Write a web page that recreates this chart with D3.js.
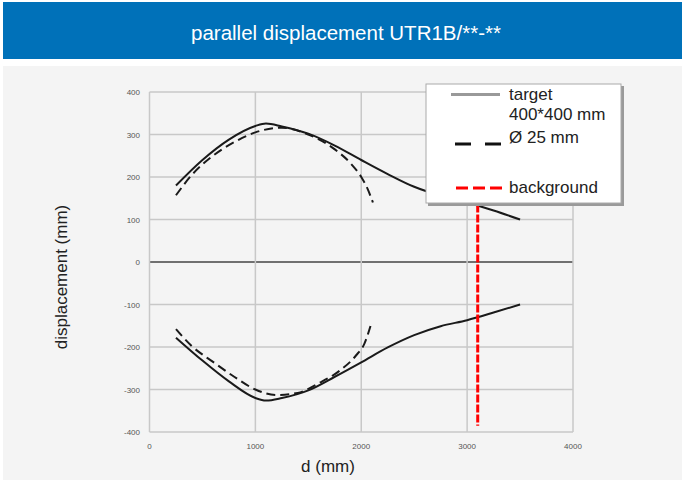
<!DOCTYPE html>
<html>
<head>
<meta charset="utf-8">
<script src="https://cdn.jsdelivr.net/npm/d3@7"></script>
<style>
  body { margin: 0; background: #fff; }
  svg { display: block; font-family: "Liberation Sans", Arial, sans-serif; }
</style>
</head>
<body>
<div id="chart"></div>
<script>
const W = 682, H = 481;

// data (d in mm, displacement in mm)
const targetUpper = [[250,180],[500,240],[750,288],[1000,320],[1100,326],[1250,319],[1500,302],[1750,274],[2000,240],[2250,207],[2500,177],[2750,156],[3000,140],[3250,121],[3500,100]];
const targetLower = [[250,-178],[500,-232],[750,-281],[1000,-320],[1100,-326],[1250,-320],[1500,-302],[1750,-270],[2000,-236],[2250,-201],[2500,-172],[2750,-151],[3000,-137],[3250,-119],[3500,-100]];
const rodUpper = [[250,157],[400,205],[600,250],[800,282],[1000,305],[1250,316],[1500,300],[1750,265],[1900,232],[2000,200],[2060,172],[2110,140]];
const rodLower = [[250,-158],[400,-198],[600,-235],[800,-270],[1000,-300],[1200,-313],[1400,-308],[1600,-285],[1800,-255],[1950,-220],[2030,-192],[2100,-140]];
const backgroundD = 3100;
const xTicks = [0, 1000, 2000, 3000, 4000];
const yTicks = [-400, -300, -200, -100, 0, 100, 200, 300, 400];
const legendItems = ["target", "400*400 mm", "Ø 25 mm", "background"];

const svg = d3.select("#chart").append("svg").attr("width", W).attr("height", H);

// header
svg.append("rect").attr("x", 3).attr("y", 2).attr("width", W - 3).attr("height", 57).attr("fill", "#0071b9");
svg.append("text").attr("x", 346).attr("y", 40).attr("text-anchor", "middle")
  .attr("fill", "#fff").attr("font-size", 20.5).text("parallel displacement UTR1B/**-**");

// panel
svg.append("rect").attr("x", 3).attr("y", 66).attr("width", W - 3).attr("height", 414).attr("fill", "#f4f4f4");

const x = d3.scaleLinear().domain([0, 4000]).range([149.5, 573]);
const y = d3.scaleLinear().domain([-400, 400]).range([432, 92]);

// grid
const grid = svg.append("g");
grid.selectAll(".h").data(yTicks).join("line")
  .attr("x1", x(0)).attr("x2", x(4000)).attr("y1", d => y(d)).attr("y2", d => y(d))
  .attr("stroke", d => d === 0 ? "#444" : "#c8c8c8").attr("stroke-width", 1.5);
grid.selectAll(".v").data(xTicks).join("line")
  .attr("y1", y(400)).attr("y2", y(-400)).attr("x1", d => x(d)).attr("x2", d => x(d))
  .attr("stroke", "#c8c8c8").attr("stroke-width", 1.5);

// tick labels
svg.append("g").selectAll("text").data(yTicks).join("text")
  .attr("x", 140).attr("y", d => y(d) + 3).attr("text-anchor", "end")
  .attr("font-size", 8).attr("fill", "#555").text(d => d);
svg.append("g").selectAll("text").data(xTicks).join("text")
  .attr("x", d => x(d)).attr("y", 449).attr("text-anchor", "middle")
  .attr("font-size", 8).attr("fill", "#555").text(d => d);

// axis titles
svg.append("text").attr("x", 328).attr("y", 472).attr("text-anchor", "middle")
  .attr("font-size", 17).attr("fill", "#222").text("d (mm)");
svg.append("text").attr("transform", "translate(67,277) rotate(-90)").attr("text-anchor", "middle")
  .attr("font-size", 17).attr("fill", "#222").text("displacement (mm)");

const line = d3.line().x(d => x(d[0])).y(d => y(d[1])).curve(d3.curveMonotoneX);

[targetUpper, targetLower].forEach(s => {
  svg.append("path").attr("d", line(s)).attr("fill", "none")
    .attr("stroke", "#1a1a1a").attr("stroke-width", 2);
});
[rodUpper, rodLower].forEach(s => {
  svg.append("path").attr("d", line(s)).attr("fill", "none")
    .attr("stroke", "#1a1a1a").attr("stroke-width", 2).attr("stroke-dasharray", "9,5");
});

// background line
svg.append("line").attr("x1", x(backgroundD)).attr("x2", x(backgroundD))
  .attr("y1", y(300)).attr("y2", y(-385))
  .attr("stroke", "#f00").attr("stroke-width", 3).attr("stroke-dasharray", "8,2");

// legend
const lg = svg.append("g");
lg.append("rect").attr("x", 428).attr("y", 86).attr("width", 196).attr("height", 120).attr("fill", "#9a9a9a");
lg.append("rect").attr("x", 426).attr("y", 84).attr("width", 195).attr("height", 119)
  .attr("fill", "#fff").attr("stroke", "#aaa").attr("stroke-width", 1);
lg.append("line").attr("x1", 451).attr("x2", 500).attr("y1", 94.5).attr("y2", 94.5)
  .attr("stroke", "#999").attr("stroke-width", 3);
lg.append("line").attr("x1", 455).attr("x2", 501).attr("y1", 144).attr("y2", 144)
  .attr("stroke", "#111").attr("stroke-width", 3).attr("stroke-dasharray", "16,14");
lg.append("line").attr("x1", 456).attr("x2", 504).attr("y1", 188).attr("y2", 188)
  .attr("stroke", "#f00").attr("stroke-width", 3).attr("stroke-dasharray", "12,5");
const legendY = [100, 120, 143, 193];
lg.selectAll("text").data(legendItems).join("text")
  .attr("x", 509).attr("y", (d, i) => legendY[i])
  .attr("font-size", 17).attr("fill", "#222").text(d => d);
</script>
</body>
</html>
